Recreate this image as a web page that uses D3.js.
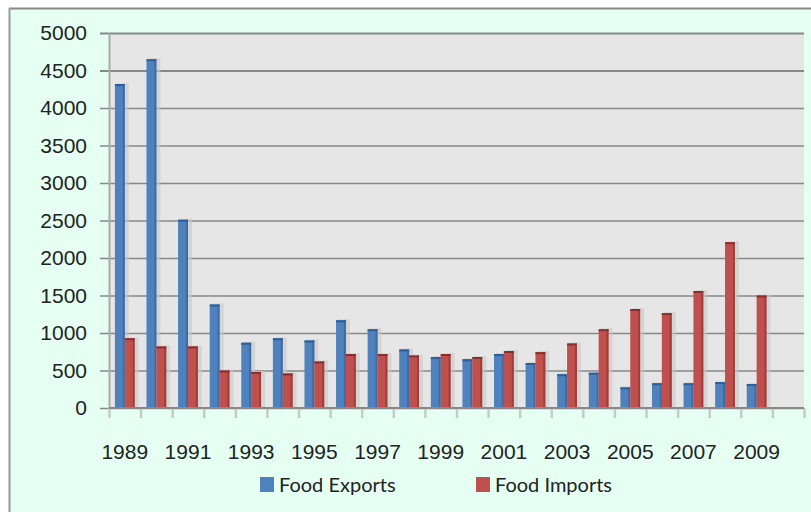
<!DOCTYPE html>
<html lang="en">
<head>
  <meta charset="UTF-8">
  <title>Food Exports and Imports</title>
  <script src="https://d3js.org/d3.v7.min.js"></script>
  <style>
    body { margin: 0; background: #fff; }
    svg { display: block; font-family: 'Lato', 'Open Sans', sans-serif; }
    .tick text { fill: #222; font-size: 21px; }
  </style>
</head>
<body>
<div class="chart"></div>
<script>
  // data
  const years = ['1989','1990','1991','1992','1993','1994','1995','1996','1997','1998','1999',
                 '2000','2001','2002','2003','2004','2005','2006','2007','2008','2009','2010'];
  const exportsVals = [4320, 4650, 2510, 1380, 870, 930, 900, 1170, 1050, 780, 680,
                       650, 720, 600, 450, 470, 275, 330, 330, 345, 320, null];
  const importsVals = [930, 820, 820, 500, 480, 460, 620, 720, 720, 700, 720,
                       680, 760, 745, 860, 1050, 1320, 1265, 1560, 2210, 1500, null];
  const yTicks = [0, 500, 1000, 1500, 2000, 2500, 3000, 3500, 4000, 4500, 5000];
  const seriesNames = ['Food Exports', 'Food Imports'];
  const colors = ['#4F81BD', '#C0504D'];
  const edge = ['#2F5F98', '#8C2F2C'];

  const W = 811, H = 512;
  const margin = { top: 33, right: 7, bottom: 104, left: 109 };
  const width = W - margin.left - margin.right;
  const height = H - margin.top - margin.bottom;

  const svg = d3.select('.chart').append('svg')
    .attr('width', W).attr('height', H);

  // outer frame
  svg.append('rect').attr('x', 9).attr('y', 8).attr('width', W - 9).attr('height', H - 8)
    .attr('fill', '#E6FFF3');
  svg.append('line').attr('x1', 9).attr('x2', W).attr('y1', 8.5).attr('y2', 8.5)
    .attr('stroke', '#888').attr('stroke-width', 2);
  svg.append('line').attr('x1', 9.5).attr('x2', 9.5).attr('y1', 8).attr('y2', H)
    .attr('stroke', '#999').attr('stroke-width', 2);

  const g = svg.append('g').attr('transform', 'translate(' + margin.left + ',' + margin.top + ')');

  const x0 = d3.scaleBand().domain(years).range([0, width]);
  const x1 = d3.scaleBand().domain(seriesNames).range([0, x0.bandwidth()]).paddingOuter(0.6);
  const y = d3.scaleLinear().domain([0, 5000]).range([height, 0]);

  g.append('rect').attr('width', width).attr('height', height).attr('fill', '#E6E6E6');

  // y axis with gridlines
  const yAxis = g.append('g')
    .call(d3.axisLeft(y).tickValues(yTicks).tickFormat(d3.format('d')).tickSize(-width - 9))
    .attr('transform', 'translate(-9,0)');
  yAxis.select('.domain').remove();
  yAxis.selectAll('.tick line').attr('stroke', '#888').attr('stroke-width', d => d >= 4500 ? 2 : 1.3);
  yAxis.selectAll('.tick text').attr('x', -13);

  g.append('line').attr('x1', 0.5).attr('x2', 0.5).attr('y1', 0).attr('y2', height)
    .attr('stroke', '#AAA').attr('stroke-width', 2);

  // bars
  const rows = years.map((yr, i) => ({ yr, vals: [exportsVals[i], importsVals[i]] }));
  const grp = g.selectAll('.grp').data(rows).enter().append('g')
    .attr('transform', d => 'translate(' + x0(d.yr) + ',0)');

  const bars = grp.selectAll('.b')
    .data(d => d.vals.map((v, k) => ({ v, k })).filter(e => e.v != null))
    .enter().append('g');

  // soft shadow
  bars.append('rect')
    .attr('x', d => x1(seriesNames[d.k]) + 2)
    .attr('y', d => y(d.v) - 1)
    .attr('width', x1.bandwidth() + 2)
    .attr('height', d => height - y(d.v) + 1)
    .attr('fill', '#C8C8C8').attr('opacity', 0.6);
  bars.append('rect')
    .attr('x', d => x1(seriesNames[d.k]))
    .attr('y', d => y(d.v))
    .attr('width', x1.bandwidth())
    .attr('height', d => height - y(d.v))
    .attr('fill', d => colors[d.k]);
  bars.append('rect')
    .attr('x', d => x1(seriesNames[d.k]) + x1.bandwidth() - 2)
    .attr('y', d => y(d.v))
    .attr('width', 2)
    .attr('height', d => height - y(d.v))
    .attr('fill', d => edge[d.k]).attr('opacity', 0.6);
  bars.append('rect')
    .attr('x', d => x1(seriesNames[d.k]))
    .attr('y', d => y(d.v))
    .attr('width', x1.bandwidth())
    .attr('height', 2)
    .attr('fill', d => edge[d.k]);

  // x axis
  const xAxis = g.append('g').attr('transform', 'translate(0,' + height + ')')
    .call(d3.axisBottom(x0).tickSize(0)
      .tickFormat((d, i) => (i % 2 === 0 && i < 21) ? d : ''));
  xAxis.select('.domain').remove();
  xAxis.selectAll('.tick text').attr('y', 51).attr('dy', 0);

  g.append('g').selectAll('line').data(years.concat(['end'])).enter().append('line')
    .attr('x1', (d, i) => i * x0.step() + 0.5)
    .attr('x2', (d, i) => i * x0.step() + 0.5)
    .attr('y1', height).attr('y2', height + 10)
    .attr('stroke', '#C5CCC8').attr('stroke-width', 2.5);

  g.append('line').attr('x1', 0).attr('x2', width).attr('y1', height).attr('y2', height)
    .attr('stroke', '#888').attr('stroke-width', 2);

  // legend
  const legend = svg.append('g').attr('transform', 'translate(0,477)');
  const legX = [260, 476];
  seriesNames.forEach((name, k) => {
    legend.append('rect').attr('x', legX[k]).attr('y', 0).attr('width', 14).attr('height', 15)
      .attr('fill', colors[k]);
    legend.append('text').attr('x', legX[k] + 19).attr('y', 15)
      .attr('font-size', 20).attr('fill', '#222').text(name);
  });
</script>
</body>
</html>
